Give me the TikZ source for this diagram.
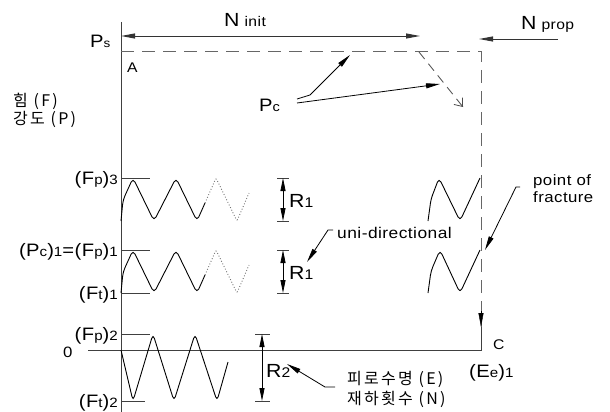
\documentclass[tikz,border=0pt]{standalone}
\usepackage{fontspec}
\setmainfont{Liberation Sans}[FakeStretch=1.12,LetterSpace=3]
\newfontfamily\kr{Noto Sans CJK KR}[LetterSpace=14]
\usetikzlibrary{arrows.meta}
\newcommand\fs[1]{\fontsize{#1}{#1}\selectfont}
\begin{document}
\begin{tikzpicture}[x=1pt,y=-1pt,
  ax/.style={draw=black!75,line width=1pt},
  wave/.style={draw=black,line width=0.9pt,rounded corners=4.5pt},
  dotw/.style={draw=black!55,line width=0.9pt,dotted,rounded corners=2pt},
  tk/.style={draw=black!75,line width=0.9pt},
  dsh/.style={draw=black!60,line width=1pt,dash pattern=on 13pt off 8pt},
  dshs/.style={draw=black!70,line width=0.8pt,dash pattern=on 9pt off 6pt},
  arr/.style={-{Triangle[length=14pt,width=5pt]}},
  darr/.style={{Triangle[length=14pt,width=5pt]}-{Triangle[length=14pt,width=5pt]}},
  dim/.style={{Triangle[length=13pt,width=5pt]}-{Triangle[length=13pt,width=5pt]}},
  lbl/.style={inner sep=0pt,text=black},
]
\path[use as bounding box] (0,0) rectangle (610,412);

% axes
\coordinate (axT) at (121,22);
\coordinate (axB) at (121,412);
\coordinate (x0) at (88,350);
\coordinate (cC) at (481,350);
\coordinate (cArr) at (481,327);
\draw[ax] (axT) -- (axB);
\draw[ax] (x0) -- (cC) -- (cArr);

% dashed path A -> C
\coordinate (dA) at (121,52);
\coordinate (dTR) at (481,52);
\draw[dsh] (dA) -- (dTR) -- (cArr);
\draw[draw=black,-{Triangle[length=14pt,width=5pt]}] (481,311) -- (cArr);

% N init / N prop
\coordinate (niL) at (121,36);
\coordinate (niR) at (420,36);
\draw[black!80,line width=0.9pt,darr] (niL) -- (niR);
\coordinate (npR) at (558,39);
\coordinate (npL) at (479,39);
\draw[black!80,line width=0.9pt,arr] (npR) -- (npL);

% Pc leaders
\coordinate (pc1a) at (297,99);
\coordinate (pc1b) at (310,95);
\coordinate (pc1c) at (350,55);
\coordinate (pc2a) at (297,103);
\coordinate (pc2b) at (440,84);
\draw[black,line width=0.8pt,arr] (pc1a) -- (pc1b) -- (pc1c);
\draw[black,line width=0.8pt,arr] (pc2a) -- (pc2b);
\coordinate (dg1) at (419,52);
\coordinate (dg2) at (463,107);
\draw[dshs,-{Straight Barb[length=7pt,width=11pt]}] (dg1) -- (dg2);

% tick lines
\draw[tk] (121,178) coordinate (t3a) -- (150,178) coordinate (t3b);
\draw[tk] (121,250) coordinate (t1a) -- (150,250) coordinate (t1b);
\draw[tk] (121,293) coordinate (t1c) -- (150,293) coordinate (t1d);
\draw[tk] (121,334) coordinate (t2a) -- (150,334) coordinate (t2b);
\draw[tk] (121,401) coordinate (t2c) -- (145,401) coordinate (t2d);

% waves
\draw[wave] (121,221) -- (123,200) -- (133,178) -- (154,221) -- (176,178) -- (197,221) -- (205,203);
\draw[dotw] (205,203) -- (216,178) -- (237,221) -- (249,193);
\draw[wave] (121,293) -- (123,272) -- (133,250) -- (154,293) -- (176,250) -- (197,293) -- (205,275);
\draw[dotw] (205,275) -- (216,250) -- (237,293) -- (249,265);
\draw[wave] (121,350) -- (133,401) -- (153,334) -- (174,401) -- (195,334) -- (217,401) -- (228,362);
\draw[wave] (428,221) -- (431,199) -- (439,178) -- (460,221) -- (480,178);
\draw[wave] (428,293) -- (431,271) -- (440,250) -- (460,293) -- (480,250);

% dimension arrows
\draw[tk] (277,178) -- (289,178);
\draw[tk] (277,221) -- (289,221);
\draw[black,line width=0.8pt,dim] (283,178) coordinate (r1a) -- (283,221) coordinate (r1b);
\draw[tk] (277,250) -- (289,250);
\draw[tk] (277,293) -- (289,293);
\draw[black,line width=0.8pt,dim] (283,250) coordinate (r1c) -- (283,293) coordinate (r1d);
\draw[tk] (255,334) -- (270,334);
\draw[tk] (255,401) -- (270,401);
\draw[black,line width=0.8pt,dim] (262,334) coordinate (r2a) -- (262,401) coordinate (r2b);

% leaders
\coordinate (ud1) at (333,230);
\coordinate (ud2) at (328,230);
\coordinate (ud3) at (307,262);
\draw[black,line width=0.8pt,arr] (ud1) -- (ud2) -- (ud3);
\coordinate (pf1) at (520,187);
\coordinate (pf2) at (516,187);
\coordinate (pf3) at (485,250);
\draw[black,line width=0.8pt,arr] (pf1) -- (pf2) -- (pf3);
\coordinate (rl1) at (335,387);
\coordinate (rl2) at (325,387);
\coordinate (rl3) at (287,364);
\draw[black,line width=0.8pt,arr] (rl1) -- (rl2) -- (rl3);

% labels
\node[lbl,anchor=base west] (ninit) at (224,27) {\fs{19}N\hspace{5pt}\fs{14}init};
\node[lbl,anchor=base west] (nprop) at (521,30) {\fs{19}N\hspace{5pt}\fs{14}prop};
\node[lbl,anchor=base west] (ps) at (90,48) {\fs{18}P\fs{12}s};
\node[lbl,anchor=base west] (a) at (127,72) {\fs{14}A};
\node[lbl,anchor=base west] (lf) at (13,106) {\kr\fs{16}힘 (F)};
\node[lbl,anchor=base west] (lp) at (13,124) {\kr\fs{16}강도 (P)};
\node[lbl,anchor=base west] (pc) at (259,111) {\fs{18}P\fs{13}c};
\node[lbl,anchor=base east] (fp3) at (118,184) {\fs{18}(F\fs{13.5}p\fs{18})\fs{13.5}3};
\node[lbl,anchor=base east] (pc1) at (118,256) {\fs{18}(P\fs{13.5}c\fs{18})\fs{13.5}1\fs{18}=(F\fs{13.5}p\fs{18})\fs{13.5}1};
\node[lbl,anchor=base east] (ft1) at (118,299) {\fs{18}(F\fs{13.5}t\fs{18})\fs{13.5}1};
\node[lbl,anchor=base east] (fp2) at (118,340) {\fs{18}(F\fs{13.5}p\fs{18})\fs{13.5}2};
\node[lbl,anchor=base west] (zero) at (63,357) {\fs{15}0};
\node[lbl,anchor=base east] (ft2) at (118,407) {\fs{18}(F\fs{13.5}t\fs{18})\fs{13.5}2};
\node[lbl,anchor=base west] (r1t) at (289,207) {\fs{19}R\fs{14}1};
\node[lbl,anchor=base west] (r1l) at (289,279) {\fs{19}R\fs{14}1};
\node[lbl,anchor=base west] (r2) at (266,377) {\fs{19}R\fs{14}2};
\node[lbl,anchor=base west] (uni) at (337,238) {\fs{15.5}uni-directional};
\node[lbl,anchor=base west] (pof) at (533,185) {\fs{15}point of};
\node[lbl,anchor=base west] (frac) at (533,202) {\fs{15}fracture};
\node[lbl,anchor=base west] (cl) at (493,349) {\fs{14}C};
\node[lbl,anchor=base west] (ee) at (469,377) {\fs{18}(E\fs{13.5}e\fs{18})\fs{13.5}1};
\node[lbl,anchor=base west] (life) at (347,384) {\kr\fs{16}피로수명 (E)};
\node[lbl,anchor=base west] (cyc) at (347,404) {\kr\fs{16}재하횟수 (N)};
\end{tikzpicture}
\end{document}
